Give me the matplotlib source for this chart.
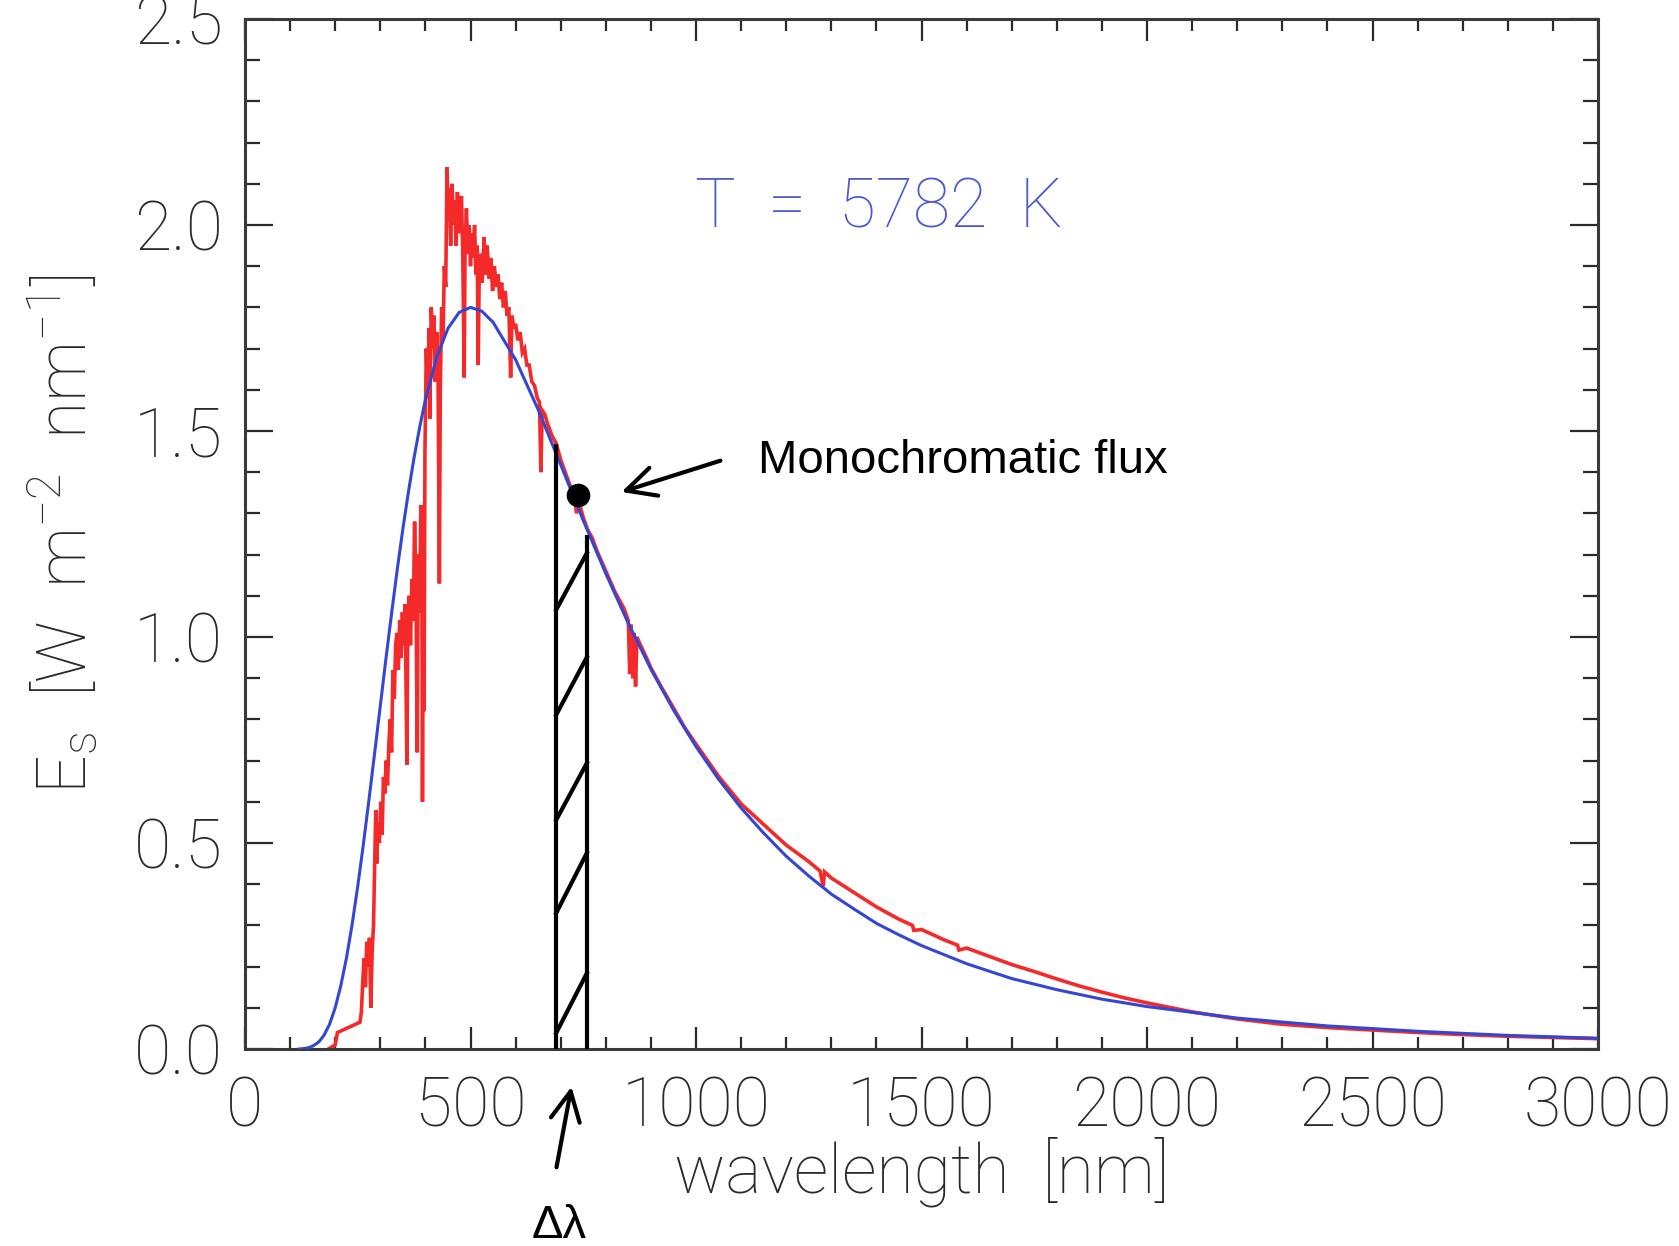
import matplotlib
matplotlib.use('Agg')
import matplotlib.pyplot as plt
from matplotlib.ticker import MultipleLocator

plt.rcParams['mathtext.fontset'] = 'custom'
plt.rcParams['mathtext.rm'] = 'Roboto:light'
plt.rcParams['mathtext.it'] = 'Roboto:light'
plt.rcParams['mathtext.bf'] = 'Roboto:light'
plt.rcParams['mathtext.sf'] = 'Roboto:light'
plt.rcParams['mathtext.default'] = 'rm'

# ---------------- data ----------------
# blue: black-body curve, T = 5782 K
bb_wl = [120, 130, 140, 150, 160, 165, 175, 187.5, 200, 212.5, 225, 237.5, 250,
         262.5, 275, 287.5, 300, 312.5, 325, 337.5, 350, 362.5, 375, 387.5, 400,
         425, 450, 475, 500, 525, 550, 600, 650, 700, 750, 800, 850, 900, 950,
         1000, 1050, 1100, 1150, 1200, 1250, 1300, 1350, 1400, 1450, 1500, 1600,
         1700, 1800, 1900, 2000, 2200, 2400, 2600, 2800, 3000]
bb_val = [0.000, 0.001, 0.003, 0.007, 0.014, 0.019, 0.033, 0.060, 0.100, 0.154,
          0.221, 0.302, 0.395, 0.497, 0.606, 0.719, 0.833, 0.947, 1.057, 1.163,
          1.262, 1.353, 1.436, 1.510, 1.576, 1.679, 1.749, 1.788, 1.800, 1.791,
          1.764, 1.673, 1.552, 1.418, 1.283, 1.154, 1.033, 0.922, 0.823, 0.734,
          0.655, 0.585, 0.524, 0.468, 0.420, 0.376, 0.340, 0.305, 0.277, 0.251,
          0.207, 0.171, 0.144, 0.121, 0.103, 0.075, 0.056, 0.043, 0.033, 0.026]

# red: measured solar spectrum
sun_wl = [185, 200, 205, 215, 225, 235, 245, 255, 258, 261, 264, 267, 270, 273,
          276, 279, 282, 285, 287, 290, 292, 295, 298, 301, 304, 307, 310, 313,
          316, 319, 322, 325, 328, 331, 334, 337, 340, 343, 346, 349, 352, 355,
          359, 361, 364, 367, 370, 373, 376, 379, 382, 384, 387, 390, 392, 393.5,
          395.5, 397, 399, 402, 405, 408, 410, 413, 416, 419, 422, 425, 428, 431,
          433, 436, 439, 442, 445, 448, 450, 453, 456, 459, 462, 465, 468, 471,
          474, 477, 480, 483, 486, 488, 491, 494, 497, 500, 503, 506, 509, 512,
          515, 517, 519, 522, 526, 530, 533, 537, 541, 545, 549, 553, 557, 561,
          565, 569, 573, 577, 581, 585, 589, 592, 596, 600, 605, 610, 615, 620,
          625, 630, 636, 642, 648, 653, 656, 659, 665, 670, 680, 690, 700, 710,
          720, 730, 735, 740, 750, 760, 770, 780, 800, 820, 840, 850, 853, 856,
          860, 863, 866, 869, 875, 890, 900, 925, 950, 975, 1000, 1050, 1100,
          1150, 1200, 1250, 1275, 1282, 1285, 1300, 1350, 1400, 1450, 1480, 1483,
          1500, 1550, 1580, 1583, 1600, 1650, 1700, 1750, 1800, 1850, 1900, 1950,
          2000, 2100, 2200, 2300, 2400, 2500, 2600, 2700, 2800, 2900, 3000]
sun_val = [0.000, 0.010, 0.040, 0.045, 0.050, 0.055, 0.060, 0.065, 0.090, 0.160,
           0.220, 0.150, 0.260, 0.200, 0.270, 0.100, 0.240, 0.300, 0.420, 0.580,
           0.450, 0.550, 0.500, 0.600, 0.520, 0.660, 0.620, 0.700, 0.640, 0.740,
           0.800, 0.720, 0.920, 0.850, 0.980, 1.010, 0.920, 1.040, 0.950, 1.060,
           0.980, 1.080, 0.690, 1.040, 1.100, 0.980, 1.140, 1.040, 1.280, 1.120,
           0.720, 1.200, 1.060, 1.320, 1.200, 0.600, 1.150, 0.820, 1.450, 1.700,
           1.580, 1.750, 1.530, 1.800, 1.700, 1.780, 1.620, 1.740, 1.650, 1.130,
           1.600, 1.800, 1.720, 1.900, 1.850, 2.140, 2.020, 2.090, 1.950, 2.100,
           2.000, 2.060, 1.950, 2.080, 1.980, 2.050, 2.070, 1.920, 1.630, 1.950,
           2.040, 1.930, 2.000, 1.900, 1.980, 1.920, 2.000, 1.880, 1.950, 1.660,
           1.850, 1.930, 1.860, 1.970, 1.880, 1.950, 1.870, 1.920, 1.840, 1.900,
           1.850, 1.880, 1.820, 1.860, 1.800, 1.840, 1.780, 1.800, 1.630, 1.780,
           1.750, 1.760, 1.720, 1.740, 1.690, 1.700, 1.660, 1.660, 1.620, 1.610,
           1.580, 1.570, 1.400, 1.550, 1.540, 1.520, 1.490, 1.470, 1.430, 1.400,
           1.370, 1.350, 1.300, 1.330, 1.290, 1.260, 1.240, 1.210, 1.160, 1.110,
           1.070, 1.040, 0.910, 1.030, 0.900, 1.010, 0.880, 1.000, 0.985, 0.950,
           0.925, 0.875, 0.828, 0.780, 0.740, 0.662, 0.595, 0.545, 0.495, 0.455,
           0.432, 0.395, 0.430, 0.415, 0.380, 0.345, 0.315, 0.300, 0.288, 0.290,
           0.265, 0.252, 0.240, 0.245, 0.225, 0.205, 0.188, 0.170, 0.153, 0.138,
           0.124, 0.112, 0.090, 0.073, 0.060, 0.052, 0.046, 0.040, 0.035, 0.031,
           0.028, 0.025]

# hatched band (delta lambda) and monochromatic flux point
band_x = [690, 758]
band_top = [1.468, 1.248]
hatch_left_y = [1.066, 0.811, 0.556, 0.330, 0.039]
hatch_right_y = [1.204, 0.951, 0.694, 0.476, 0.184]
flux_point = (738, 1.345)

x_ticks = [0, 500, 1000, 1500, 2000, 2500, 3000]
y_ticks = [0.0, 0.5, 1.0, 1.5, 2.0, 2.5]
x_ticklabels = ['0', '500', '1000', '1500', '2000', '2500', '3000']
y_ticklabels = ['0.0', '0.5', '1.0', '1.5', '2.0', '2.5']

# ---------------- figure ----------------
W, H = 1679, 1246
fig = plt.figure(figsize=(W / 100, H / 100), dpi=100)
ax = fig.add_axes([245 / W, 1 - 1049 / H, (1598 - 245) / W, (1049 - 19) / H])

tick_font = dict(family='Roboto', weight='light')
gray = '#2a2a2a'
FS = 49

ax.plot(sun_wl, sun_val, color='#f42a2a', lw=2.6, solid_joinstyle='miter', zorder=2)
ax.plot(bb_wl, bb_val, color='#3346d6', lw=2.2, zorder=3)

ax.set_xlim(0, 3000)
ax.set_ylim(0, 2.5)
ax.set_xticks(x_ticks)
ax.set_xticklabels(x_ticklabels, fontsize=FS, color=gray, **tick_font)
ax.set_yticks(y_ticks)
ax.set_yticklabels(y_ticklabels, fontsize=FS, color=gray, **tick_font)
ax.xaxis.set_minor_locator(MultipleLocator(100))
ax.yaxis.set_minor_locator(MultipleLocator(0.1))
ax.tick_params(axis='x', which='major', direction='in', length=16, width=1.6,
               color=gray, top=True, pad=19)
ax.tick_params(axis='x', which='minor', direction='in', length=8.5, width=1.6,
               color=gray, top=True)
ax.tick_params(axis='y', which='major', direction='in', length=20, width=1.6,
               color=gray, right=True, pad=16)
ax.tick_params(axis='y', which='minor', direction='in', length=10.5, width=1.6,
               color=gray, right=True)
for s in ax.spines.values():
    s.set_linewidth(2.2)
    s.set_color('#3a3a3a')

ax.set_xlabel('wavelength  [nm]', fontsize=FS, color=gray, **tick_font)
ax.xaxis.set_label_coords(0.5, -0.085)
ax.xaxis.label.set_va('top')
ax.set_ylabel(r'E$_\mathregular{s}$  [W  m$^{-2}$  nm$^{-1}$]', fontsize=FS,
              color=gray, **tick_font)
ax.yaxis.set_label_coords(-0.107, 0.5)

ax.text(998, 1.995, 'T  =  5782  K', color='#4a5ad0', fontsize=FS,
        ha='left', va='baseline', **tick_font)

# hatched band
for xv, top in zip(band_x, band_top):
    ax.plot([xv, xv], [0, top], color='k', lw=3.0, solid_capstyle='butt', zorder=4)
for yl, yr in zip(hatch_left_y, hatch_right_y):
    ax.plot(band_x, [yl, yr], color='k', lw=3.0, zorder=4)

ax.plot([flux_point[0]], [flux_point[1]], 'o', color='k', ms=16, zorder=5)

ax.annotate('', xy=(829, 1.35), xytext=(1060, 1.43),
            arrowprops=dict(arrowstyle='->,head_length=0.7,head_width=0.35',
                            color='k', lw=3.0, mutation_scale=30))
ax.text(1137, 1.398, 'Monochromatic flux', fontsize=34, family='Liberation Sans',
        color='k', ha='left', va='baseline')

ax.annotate('', xy=(572, 162), xycoords='figure pixels',
            xytext=(556, 76), textcoords='figure pixels',
            arrowprops=dict(arrowstyle='->,head_length=0.7,head_width=0.35',
                            color='k', lw=3.0, mutation_scale=30))
fig.text(559 / W, 8 / H, '\u0394\u03bb', fontsize=34, family='Liberation Sans',
         color='k', ha='center', va='baseline')

fig.savefig('out.png', dpi=100, facecolor='white')
